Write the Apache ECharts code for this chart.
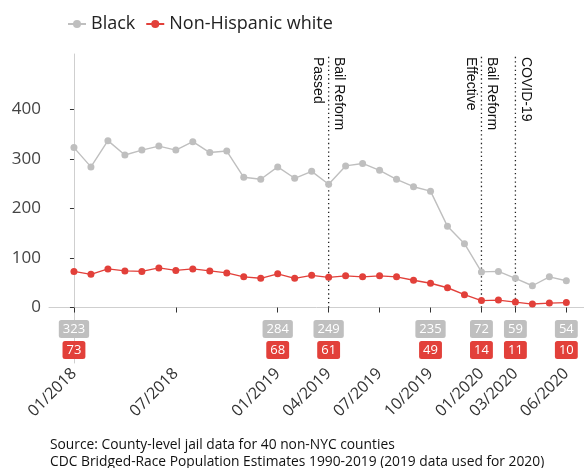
<!DOCTYPE html>
<html>
<head>
<meta charset="utf-8">
<script src="https://cdn.jsdelivr.net/npm/echarts@6/dist/echarts.min.js"></script>
<style>
  html, body { margin: 0; padding: 0; background: #fff; }
  #chart { width: 584px; height: 468px; }
</style>
</head>
<body>
<div id="chart"></div>
<script>
const months = ['01/2018','02/2018','03/2018','04/2018','05/2018','06/2018','07/2018','08/2018','09/2018','10/2018','11/2018','12/2018',
                '01/2019','02/2019','03/2019','04/2019','05/2019','06/2019','07/2019','08/2019','09/2019','10/2019','11/2019','12/2019',
                '01/2020','02/2020','03/2020','04/2020','05/2020','06/2020'];
const black = [323, 284, 337, 308, 318, 326, 318, 335, 313, 316, 263, 259,
               284, 261, 275, 249, 286, 291, 277, 259, 244, 235, 164, 129,
               72, 73, 59, 44, 62, 54];
const white = [73, 67, 78, 74, 73, 80, 75, 78, 74, 70, 62, 59,
               68, 59, 65, 61, 64, 62, 64, 62, 55, 49, 40, 26,
               14, 15, 11, 7, 9, 10];
const tickMonths = ['01/2018','07/2018','01/2019','04/2019','07/2019','10/2019','01/2020','03/2020','06/2020'];
const labelMonths = ['01/2018','01/2019','04/2019','10/2019','01/2020','03/2020','06/2020'];
const yTicks = [0, 100, 200, 300, 400];
const eventMonths = ['04/2019', '01/2020', '03/2020'];
const eventRight = ['Bail Reform', 'Bail Reform', 'COVID-19'];
const eventLeft = ['Passed', 'Effective', ''];
const sourceLines = ['Source: County-level jail data for 40 non-NYC counties',
                     'CDC Bridged-Race Population Estimates 1990-2019 (2019 data used for 2020)'];

const GRAY = '#bfbfbf';
const RED = '#e2403a';
const FONT = '"Open Sans"';
const Y_MAX = 512;

const tickIdx = tickMonths.map(m => months.indexOf(m));
const chart = echarts.init(document.getElementById('chart'), null, { renderer: 'canvas' });

const option = {
  animation: false,
  backgroundColor: '#fff',
  textStyle: { fontFamily: 'Open Sans' },
  legend: {
    data: ['Black', 'Non-Hispanic white'],
    left: 62, top: 10,
    itemWidth: 18, itemHeight: 10, itemGap: 10,
    textStyle: { fontSize: 18, color: '#222', fontFamily: 'Open Sans' }
  },
  grid: { left: 49, right: 0, top: 54, bottom: 105 },
  xAxis: {
    type: 'value', min: -1.47, max: 30.04,
    splitLine: { show: false },
    axisLine: { show: true, lineStyle: { color: '#cfcfcf', width: 1 } },
    axisTick: { show: true, customValues: tickIdx, length: 5, lineStyle: { color: '#333' } },
    axisLabel: {
      customValues: tickIdx, rotate: 45, fontSize: 16, color: '#333', margin: 8,
      formatter: v => months[Math.round(v)]
    }
  },
  yAxis: {
    type: 'value', min: -112, max: Y_MAX,
    splitLine: { show: false },
    axisLine: { show: true, lineStyle: { color: '#cfcfcf', width: 1 } },
    axisTick: { show: true, customValues: yTicks, length: 4, lineStyle: { color: '#333' } },
    axisLabel: { customValues: yTicks, fontSize: 17, color: '#444', margin: 8 }
  },
  series: [
    {
      name: 'Black', type: 'line', data: black.map((v, i) => [i, v]),
      color: GRAY, symbol: 'circle', symbolSize: 7,
      lineStyle: { color: GRAY, width: 1.4 }, itemStyle: { color: GRAY }, z: 3
    },
    {
      name: 'Non-Hispanic white', type: 'line', data: white.map((v, i) => [i, v]),
      color: RED, symbol: 'circle', symbolSize: 7,
      lineStyle: { color: RED, width: 1.4 }, itemStyle: { color: RED }, z: 4
    },
    {
      type: 'custom', name: 'events', silent: true, z: 2,
      data: eventMonths.map((m, i) => [months.indexOf(m), i]),
      renderItem: function (params, api) {
        const xi = api.value(0), k = api.value(1);
        const p0 = api.coord([xi, 0]);
        const p1 = api.coord([xi, Y_MAX]);
        const children = [{
          type: 'line',
          shape: { x1: p0[0], y1: p0[1], x2: p1[0], y2: p1[1] },
          style: { stroke: '#222', lineWidth: 1.3, lineDash: [1.3, 3] }
        }];
        children.push({
          type: 'text', x: p0[0] + 3, y: p1[1] + 3, rotation: -Math.PI / 2,
          style: { text: eventRight[k], fill: '#111', font: '14px "Liberation Sans"', align: 'left', verticalAlign: 'bottom' }
        });
        if (eventLeft[k]) {
          children.push({
            type: 'text', x: p0[0] - 4, y: p1[1] + 3, rotation: -Math.PI / 2,
            style: { text: eventLeft[k], fill: '#111', font: '14px "Liberation Sans"', align: 'left', verticalAlign: 'top' }
          });
        }
        return { type: 'group', children: children };
      }
    },
    {
      type: 'custom', name: 'labels', silent: true, z: 5,
      data: labelMonths.map(m => { const i = months.indexOf(m); return [i, black[i], white[i]]; }),
      renderItem: function (params, api) {
        const xi = api.value(0);
        const p = api.coord([xi, 0]);
        return {
          type: 'group',
          children: [
            {
              type: 'text', x: p[0], y: p[1] + 21.5,
              style: {
                text: String(api.value(1)), fill: '#fff', font: '13px ' + FONT, lineHeight: 14,
                align: 'center', verticalAlign: 'middle',
                backgroundColor: GRAY, padding: [2, 4, 2, 4], borderRadius: 2.5
              }
            },
            {
              type: 'text', x: p[0], y: p[1] + 42.5,
              style: {
                text: String(api.value(2)), fill: '#fff', font: '13px ' + FONT, lineHeight: 14,
                align: 'center', verticalAlign: 'middle',
                backgroundColor: RED, padding: [2, 4, 2, 4], borderRadius: 2.5
              }
            }
          ]
        };
      }
    }
  ],
  graphic: [
    {
      type: 'text', left: 50, top: 437,
      style: { text: sourceLines.join('\n'), fill: '#111', font: '13.8px ' + FONT, lineHeight: 16.5 }
    }
  ]
};
chart.setOption(option);
</script>
</body>
</html>
